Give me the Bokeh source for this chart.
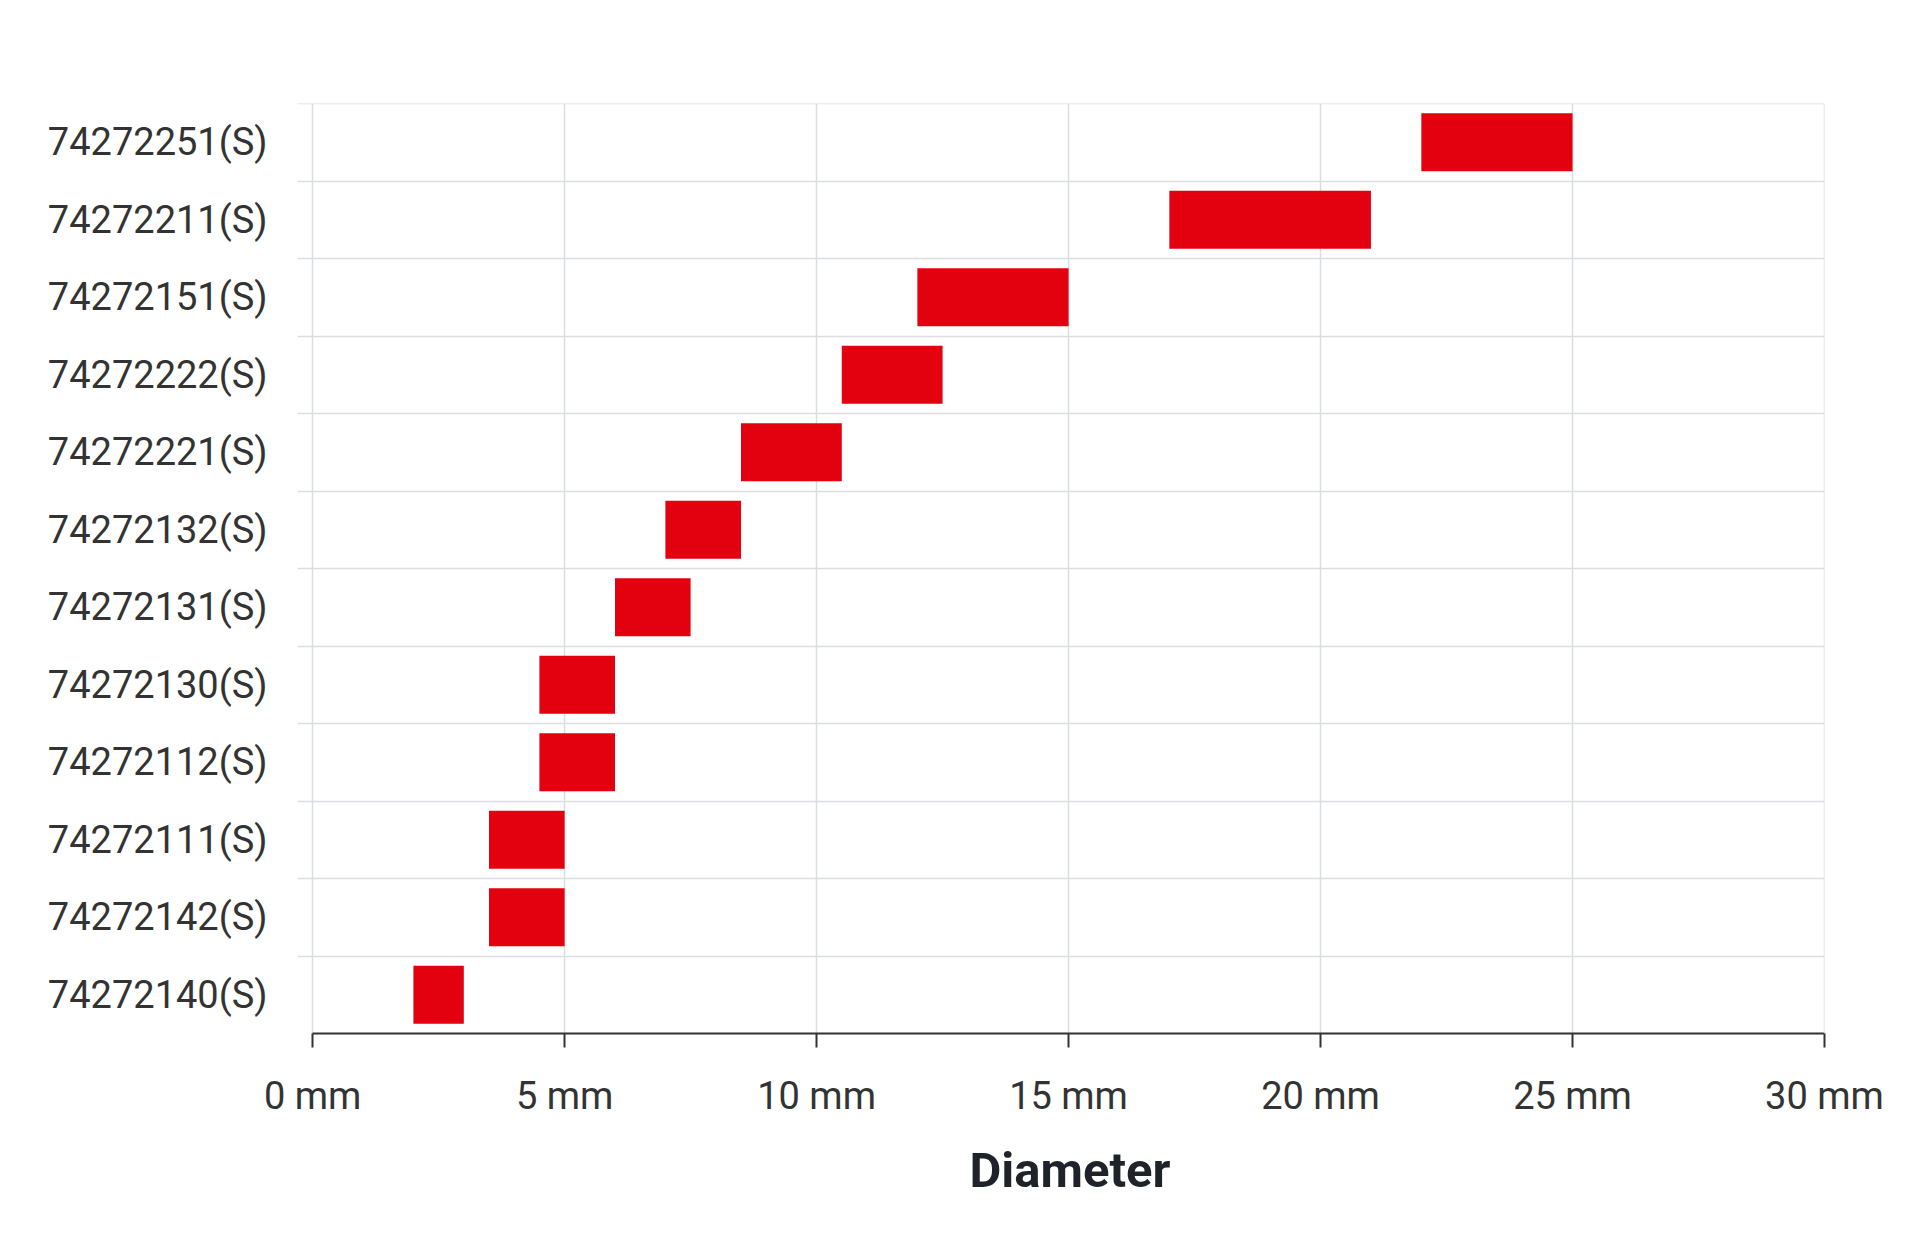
from bokeh.plotting import figure
from bokeh.models import FactorRange, Range1d, FixedTicker, Span, Title
from bokeh.embed import file_html
from bokeh.resources import INLINE

# --- data ---
products = ["74272140(S)", "74272142(S)", "74272111(S)", "74272112(S)",
            "74272130(S)", "74272131(S)", "74272132(S)", "74272221(S)",
            "74272222(S)", "74272151(S)", "74272211(S)", "74272251(S)"]
d_min = [2.0, 3.5, 3.5, 4.5, 4.5, 6.0, 7.0, 8.5, 10.5, 12.0, 17.0, 22.0]
d_max = [3.0, 5.0, 5.0, 6.0, 6.0, 7.5, 8.5, 10.5, 12.5, 15.0, 21.0, 25.0]
x_ticks = [0, 5, 10, 15, 20, 25, 30]
x_tick_labels = ["0 mm", "5 mm", "10 mm", "15 mm", "20 mm", "25 mm", "30 mm"]
axis_title = "Diameter"

FONT = "Roboto"
GRID = "#dcdde1"

p = figure(width=1900, height=1220, output_backend="svg", toolbar_location=None,
           y_range=FactorRange(factors=products), x_range=Range1d(-0.3, 30),
           min_border_left=297, min_border_right=76, min_border_top=103,
           min_border_bottom=187)
p.outline_line_color = None
p.background_fill_color = "white"
p.border_fill_color = "white"

p.hbar(y=products, left=d_min, right=d_max, height=0.75,
       fill_color="#e3000f", line_color=None)

# grids
p.xgrid.ticker = FixedTicker(ticks=x_ticks)
p.xgrid.grid_line_color = GRID
p.xgrid.grid_line_width = 1.5
p.ygrid.ticker = FixedTicker(ticks=list(range(len(products) + 1)))
p.ygrid.grid_line_color = GRID
p.ygrid.grid_line_width = 1.5
# edge grid lines (top and right) that the grid omits at range ends
p.add_layout(Span(location=len(products), dimension="width",
                  line_color=GRID, line_width=1.5))
p.add_layout(Span(location=x_ticks[-1], dimension="height",
                  line_color=GRID, line_width=1.5))

# x axis
xa = p.xaxis[0]
xa.ticker = FixedTicker(ticks=x_ticks)
xa.major_label_overrides = {t: l for t, l in zip(x_ticks, x_tick_labels)}
xa.bounds = (0, 30)
xa.axis_line_color = "#333333"
xa.axis_line_width = 2
xa.major_tick_line_color = "#333333"
xa.major_tick_line_width = 2
xa.major_tick_out = 14
xa.major_tick_in = 0
xa.minor_tick_line_color = None
xa.major_label_text_font = FONT
xa.major_label_text_font_size = "38px"
xa.major_label_text_color = "#333333"
xa.major_label_standoff = 26

# axis title, centred under the 0-30 mm axis span
p.add_layout(Title(text=axis_title, align="left", offset=672,
                   text_font=FONT, text_font_style="bold",
                   text_font_size="49px", text_color="#1f2329",
                   standoff=38), "below")

# y axis
ya = p.yaxis[0]
ya.axis_line_color = None
ya.major_tick_line_color = None
ya.minor_tick_line_color = None
ya.major_label_text_font = FONT
ya.major_label_text_font_size = "38px"
ya.major_label_text_color = "#333333"
ya.major_label_standoff = 24

open("out.html", "w").write(file_html(p, INLINE))
